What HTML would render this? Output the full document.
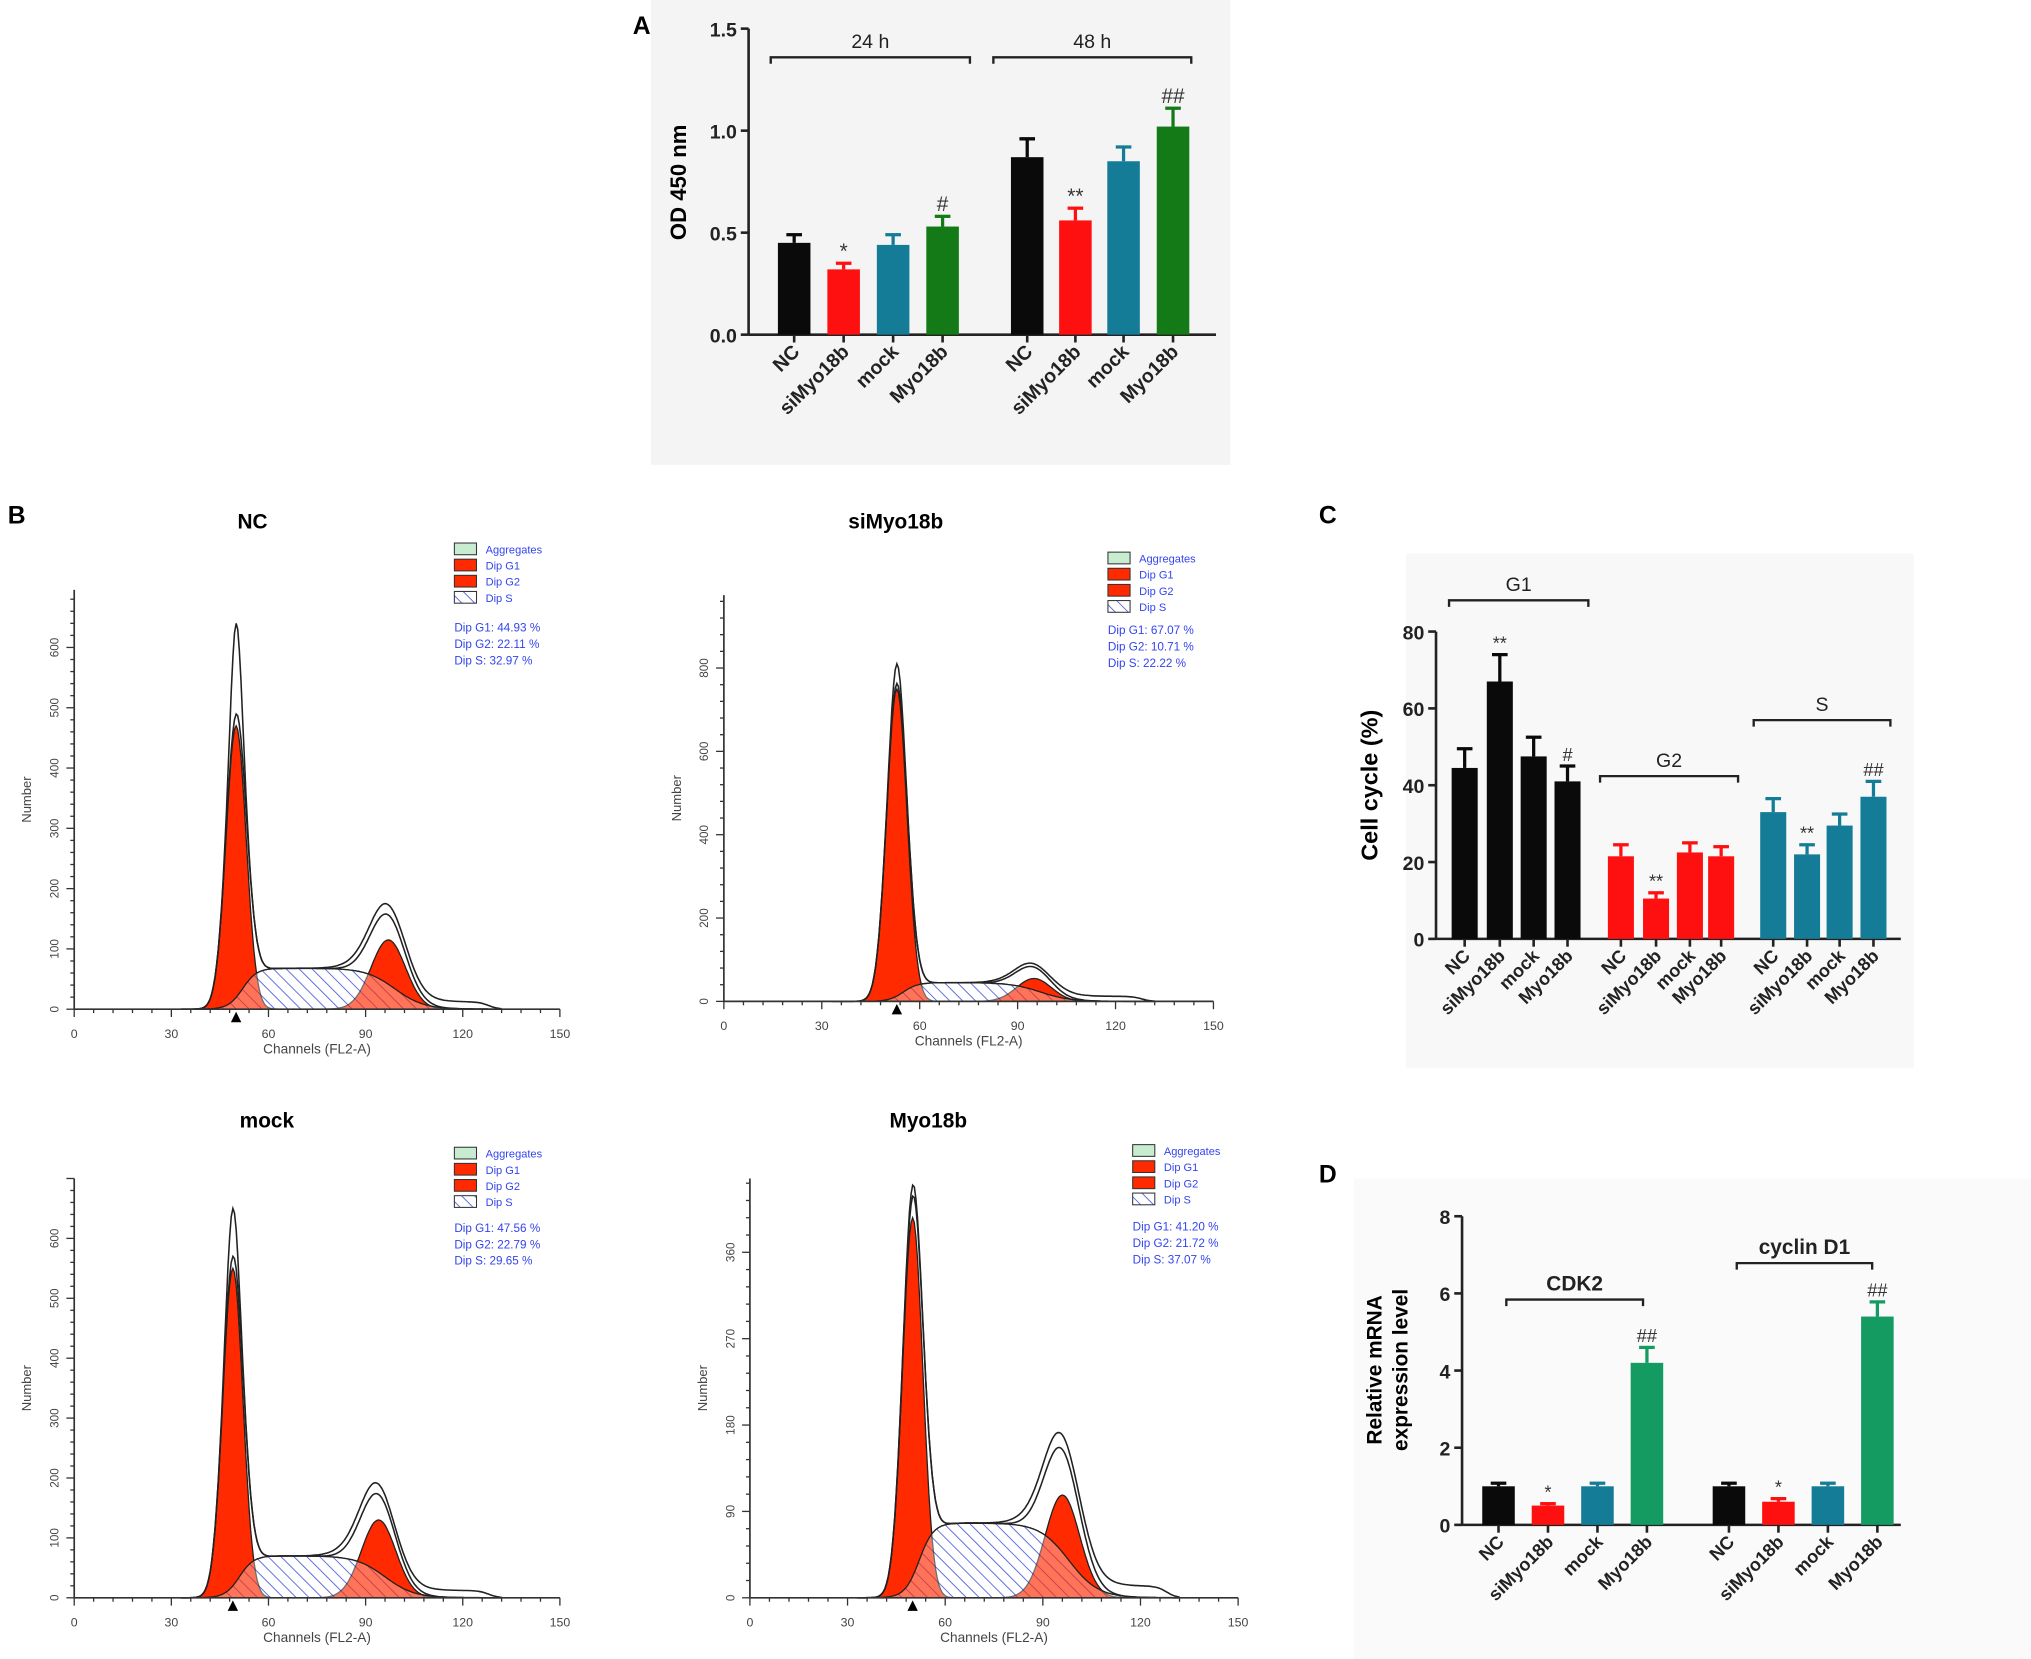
<!DOCTYPE html>
<html><head><meta charset="utf-8">
<style>
html,body{margin:0;padding:0;background:#fff;}
svg{display:block;font-family:"Liberation Sans",Arial,sans-serif;}
</style></head>
<body>
<svg id="fig" width="2031" height="1659" viewBox="0 0 1560 1274" preserveAspectRatio="none" xmlns="http://www.w3.org/2000/svg">
<defs>
<pattern id="hatch" patternUnits="userSpaceOnUse" width="7" height="7" patternTransform="rotate(-45)">
<rect width="7" height="7" fill="#fff"/>
<line x1="0" y1="0" x2="0" y2="7" stroke="#5566dd" stroke-width="1.4"/>
</pattern>
</defs>
<rect x="0" y="0" width="1560" height="1274" fill="#fff"/>
<rect x="500" y="0" width="445" height="357" fill="#f4f4f4"/>
<rect x="1080" y="425" width="390" height="395" fill="#f8f8f8"/>
<rect x="1040" y="905" width="520" height="369" fill="#fafafa"/>
<g id="root"></g>
</svg>
<script>
// ---------- Panel A data ----------
const aCats = ['NC','siMyo18b','mock','Myo18b'];
const aGroups = ['24 h','48 h'];
const a24 = [0.45,0.32,0.44,0.53];
const a24err = [0.04,0.03,0.05,0.05];
const a48 = [0.87,0.56,0.85,1.02];
const a48err = [0.09,0.06,0.07,0.09];
const a24sig = ['','*','','#'];
const a48sig = ['','**','','##'];
const aTicks = ['0.0','0.5','1.0','1.5'];
// ---------- Panel C data ----------
const cGroups = ['G1','G2','S'];
const cG1 = [44.5,67,47.5,41];
const cG1err = [5,7,5,4];
const cG2 = [21.5,10.5,22.5,21.5];
const cG2err = [3,1.5,2.5,2.5];
const cS = [33,22,29.5,37];
const cSerr = [3.5,2.5,3,4];
const cG1sig = ['','**','','#'];
const cG2sig = ['','**','',''];
const cSsig = ['','**','','##'];
const cTicks = ['0','20','40','60','80'];
// ---------- Panel D data ----------
const dGroups = ['CDK2','cyclin D1'];
const dCDK2 = [1.0,0.5,1.0,4.2];
const dCDK2err = [0.08,0.05,0.08,0.4];
const dCyc = [1.0,0.6,1.0,5.4];
const dCycErr = [0.08,0.08,0.08,0.38];
const dCDK2sig = ['','*','','##'];
const dCycSig = ['','*','','##'];
const dTicks = ['0','2','4','6','8'];
// ---------- Panel B flow data ----------
const flowNames = ['NC','siMyo18b','mock','Myo18b'];
const g1Center = [50,53,49,50];
const g1Height = [470,750,550,396];
const rawPeak = [640,810,650,430];
const g2Center = [97,95,94,96];
const g2Height = [115,55,130,107];
const sHeight = [68,45,70,78];
const dipG1 = ['44.93','67.07','47.56','41.20'];
const dipG2 = ['22.11','10.71','22.79','21.72'];
const dipS = ['32.97','22.22','29.65','37.07'];

const NS='http://www.w3.org/2000/svg';
const root=document.getElementById('root');
function el(tag,attrs,parent){const e=document.createElementNS(NS,tag);for(const k in attrs)e.setAttribute(k,attrs[k]);(parent||root).appendChild(e);return e;}
function txt(s,attrs,parent){const e=el('text',attrs,parent);e.textContent=s;return e;}

function barChart(o){
  const g=el('g',{});
  
  
  const y=v=>o.y0-(v-o.vmin)/(o.vmax-o.vmin)*(o.y0-o.ytop);
  const ya=el('line',{x1:o.ax,y1:o.ytop,x2:o.ax,y2:o.y0,stroke:'#222','stroke-width':2},g);
  
  const xa=el('line',{x1:o.ax,y1:o.y0,x2:o.axEnd,y2:o.y0,stroke:'#222','stroke-width':2},g);
  
  o.ticks.forEach(t=>{
    const yy=y(parseFloat(t));
    el('line',{x1:o.ax-6,y1:yy,x2:o.ax,y2:yy,stroke:'#222','stroke-width':2},g);
    const tl=txt(t,{x:o.ax-9,y:yy+6,'text-anchor':'end','font-size':o.tickFs,'font-weight':'bold',fill:'#222'},g);
    
  });
  o.series.forEach((s,gi)=>{
    s.vals.forEach((v,i)=>{
      const cx=s.xs[i];
      const top=y(v);
      const r=el('rect',{x:cx-o.bw/2,y:top,width:o.bw,height:o.y0-top,fill:s.colors[i]},g);
      
      const et=y(v+s.err[i]);
      el('line',{x1:cx,y1:top,x2:cx,y2:et,stroke:s.colors[i],'stroke-width':2.5},g);
      el('line',{x1:cx-6,y1:et,x2:cx+6,y2:et,stroke:s.colors[i],'stroke-width':2.5},g);
      el('line',{x1:cx,y1:o.y0,x2:cx,y2:o.y0+6,stroke:'#222','stroke-width':2},g);
      if(s.sig[i]){const st=txt(s.sig[i],{x:cx,y:et-4,'text-anchor':'middle','font-size':o.sigFs,fill:'#333'},g);
        }
      const lb=txt(o.cats[i],{x:cx+5,y:o.y0+14,'text-anchor':'end','font-size':o.labFs,'font-weight':'bold',fill:'#222',transform:`rotate(-45 ${cx+5} ${o.y0+14})`},g);
      
    });
    const b=s.bracket;
    el('path',{d:`M${b[0]} ${b[2]+5} L${b[0]} ${b[2]} L${b[1]} ${b[2]} L${b[1]} ${b[2]+5}`,fill:'none',stroke:'#222','stroke-width':1.8},g);
    const bl=txt(s.key,{x:(b[0]+b[1])/2,y:b[2]-7,'text-anchor':'middle','font-size':o.brFs,'font-weight':o.brW||'normal',fill:'#222'},g);
    
  });
  return {g,y};
}
const cBlack='#0a0a0a',cRed='#ff1010',cTeal='#147c96',cGreenA='#137a17',cGreenD='#149b62';

txt('A',{x:486,y:26,'font-size':19,'font-weight':'bold'});
barChart({name:'panel-a-chart',cats:aCats,ax:575,axEnd:934,y0:257,ytop:22,vmin:0,vmax:1.5,ticks:aTicks,bw:25,tickFs:15,labFs:15,sigFs:16,brFs:15,
  series:[{key:'24 h',vals:a24,err:a24err,sig:a24sig,xs:[610,648,686,724],colors:[cBlack,cRed,cTeal,cGreenA],bracket:[592,745,44]},
          {key:'48 h',vals:a48,err:a48err,sig:a48sig,xs:[789,826,863,901],colors:[cBlack,cRed,cTeal,cGreenA],bracket:[763,915,44]}]});
const at=txt('OD 450 nm',{x:527,y:140,'text-anchor':'middle','font-size':17,'font-weight':'bold',transform:'rotate(-90 527 140)'});


txt('C',{x:1013,y:402,'font-size':19,'font-weight':'bold'});
barChart({name:'panel-c-chart',cats:aCats,ax:1103,axEnd:1460,y0:721,ytop:485,vmin:0,vmax:80,ticks:cTicks,bw:20,tickFs:15,labFs:14,sigFs:14,brFs:15,
  series:[{key:'G1',vals:cG1,err:cG1err,sig:cG1sig,xs:[1125,1152,1178,1204],colors:[cBlack,cBlack,cBlack,cBlack],bracket:[1113,1220,461]},
          {key:'G2',vals:cG2,err:cG2err,sig:cG2sig,xs:[1245,1272,1298,1322],colors:[cRed,cRed,cRed,cRed],bracket:[1229,1335,596]},
          {key:'S',vals:cS,err:cSerr,sig:cSsig,xs:[1362,1388,1413,1439],colors:[cTeal,cTeal,cTeal,cTeal],bracket:[1347,1452,553]}]});
const ct=txt('Cell cycle (%)',{x:1058,y:603,'text-anchor':'middle','font-size':18,'font-weight':'bold',transform:'rotate(-90 1058 603)'});


txt('D',{x:1013,y:908,'font-size':19,'font-weight':'bold'});
barChart({name:'panel-d-chart',cats:aCats,ax:1123,axEnd:1460,y0:1171,ytop:934,vmin:0,vmax:8,ticks:dTicks,bw:25,tickFs:15,labFs:14,sigFs:14,brFs:16,brW:'bold',
  series:[{key:'CDK2',vals:dCDK2,err:dCDK2err,sig:dCDK2sig,xs:[1151,1189,1227,1265],colors:[cBlack,cRed,cTeal,cGreenD],bracket:[1157,1262,998]},
          {key:'cyclin D1',vals:dCyc,err:dCycErr,sig:dCycSig,xs:[1328,1366,1404,1442],colors:[cBlack,cRed,cTeal,cGreenD],bracket:[1334,1438,970]}]});
const dt=txt('Relative mRNA',{x:1061,y:1052,'text-anchor':'middle','font-size':16,'font-weight':'bold',transform:'rotate(-90 1061 1052)'});

const dt2=txt('expression level',{x:1081,y:1052,'text-anchor':'middle','font-size':16,'font-weight':'bold',transform:'rotate(-90 1081 1052)'});


txt('B',{x:6,y:402,'font-size':19,'font-weight':'bold'});
const flowLayout=[
 {x0:57,y0:775,ppc:2.487,ppu:0.463,top:453,step:100,maxL:600,minor:20,tx:194,ty:406,lx:349,ly:425,sy:485},
 {x0:556,y0:769,ppc:2.507,ppu:0.32,top:457,step:200,maxL:800,minor:40,tx:688,ty:406,lx:851,ly:432,sy:487},
 {x0:57,y0:1227,ppc:2.487,ppu:0.46,top:905,step:100,maxL:600,minor:20,tx:205,ty:866,lx:349,ly:889,sy:946},
 {x0:576,y0:1227,ppc:2.5,ppu:0.737,top:905,step:90,maxL:360,minor:18,tx:713,ty:866,lx:870,ly:887,sy:945}];
const gauss=(x,c,s)=>Math.exp(-0.5*((x-c)/s)**2);
const logi=x=>1/(1+Math.exp(-x));
flowLayout.forEach((L,k)=>{
  const g=el('g',{});
  
  
  const X=c=>L.x0+c*L.ppc, Y=v=>L.y0-v*L.ppu;
  const tt=txt(flowNames[k],{x:L.tx,y:L.ty,'text-anchor':'middle','font-size':16,'font-weight':'bold'},g);
  
  const sF=c=>sHeight[k]*logi((c-(g1Center[k]+2))/2.2)*logi(((g2Center[k]+2)-c)/4.5);
  const g1F=c=>g1Height[k]*gauss(c,g1Center[k],3.1);
  const g2F=c=>g2Height[k]*gauss(c,g2Center[k],5.3);
  const tot=c=>sF(c)+g1F(c)+g2F(c);
  const rawF=c=>tot(c)+(rawPeak[k]-g1Height[k]-sF(g1Center[k]))*gauss(c,g1Center[k],1.6)+0.15*g2Height[k]*gauss(c,g2Center[k]-4,7)+12*logi((c-100)/2)*logi((128-c)/1.5);
  const area=f=>{let d=`M${X(30)} ${L.y0}`;for(let c=30;c<=135;c+=0.5)d+=` L${X(c).toFixed(1)} ${Y(f(c)).toFixed(1)}`;return d+` L${X(135)} ${L.y0} Z`;};
  const line=f=>{let d='';for(let c=33;c<=132;c+=0.5)d+=(d?' L':'M')+X(c).toFixed(1)+' '+Y(f(c)).toFixed(1);return d;};
  const sp=el('path',{d:area(sF),fill:'url(#hatch)',stroke:'#222','stroke-width':1},g);
  
  const p1=el('path',{d:area(g1F),fill:'#ff2a00',stroke:'#222','stroke-width':1},g);
  
  const p2=el('path',{d:area(g2F),fill:'#ff2a00',stroke:'#222','stroke-width':1},g);
  
  el('path',{d:area(sF),fill:'url(#hatch)','fill-opacity':0.35,stroke:'#222','stroke-width':1},g);
  const tl=el('path',{d:line(tot),fill:'none',stroke:'#222','stroke-width':1.2},g);
  
  const rl=el('path',{d:line(rawF),fill:'none',stroke:'#222','stroke-width':1.2},g);
  
  el('line',{x1:L.x0,y1:L.top,x2:L.x0,y2:L.y0,stroke:'#333','stroke-width':1.3},g);
  el('line',{x1:L.x0,y1:L.y0,x2:X(150),y2:L.y0,stroke:'#333','stroke-width':1.3},g);
  for(let v=0;v*L.ppu<=L.y0-L.top;v+=L.minor){
    const major=v%L.step===0;
    el('line',{x1:L.x0-(major?6:3),y1:Y(v),x2:L.x0,y2:Y(v),stroke:'#333','stroke-width':1},g);
    if(major&&v<=L.maxL){const t=txt(String(v),{x:L.x0-12,y:Y(v),'text-anchor':'middle','font-size':9,fill:'#444',transform:`rotate(-90 ${L.x0-12} ${Y(v)})`},g);
      }
  }
  for(let c=0;c<=150;c+=6){
    const major=c%30===0;
    el('line',{x1:X(c),y1:L.y0,x2:X(c),y2:L.y0+(major?6:3),stroke:'#333','stroke-width':1},g);
  }
  [0,30,60,90,120,150].forEach(c=>{const t=txt(String(c),{x:X(c),y:L.y0+22,'text-anchor':'middle','font-size':9.5,fill:'#444'},g);
    });
  el('path',{d:`M${X(g1Center[k])-4} ${L.y0+10} L${X(g1Center[k])+4} ${L.y0+10} L${X(g1Center[k])} ${L.y0+2} Z`,fill:'#000'},g);
  const xt=txt('Channels (FL2-A)',{x:X(75),y:L.y0+34,'text-anchor':'middle','font-size':10.5,fill:'#444'},g);
  
  const ytl=txt('Number',{x:L.x0-33,y:(L.top+L.y0)/2,'text-anchor':'middle','font-size':10,fill:'#444',transform:`rotate(-90 ${L.x0-33} ${(L.top+L.y0)/2})`},g);
  
  const lg=el('g',{},g);
  
  const items=[['Aggregates','#c8ecd0'],['Dip G1','#ff2a00'],['Dip G2','#ff2a00'],['Dip S','url(#hatch)']];
  items.forEach((it,i)=>{
    const yy=L.ly+i*12.4;
    el('rect',{x:L.lx,y:yy-8,width:17,height:9,fill:it[1],stroke:'#333','stroke-width':0.8},lg);
    const t=txt(it[0],{x:L.lx+24,y:yy,'font-size':8.5,fill:'#3344ee'},lg);
    
  });
  [['Dip G1: ',dipG1[k]],['Dip G2: ',dipG2[k]],['Dip S: ',dipS[k]]].forEach((s,i)=>{
    const t=txt(s[0]+s[1]+' %',{x:L.lx,y:L.sy+i*12.6,'font-size':9,fill:'#3344ee'},g);
    
  });
});
</script>
</body></html>
